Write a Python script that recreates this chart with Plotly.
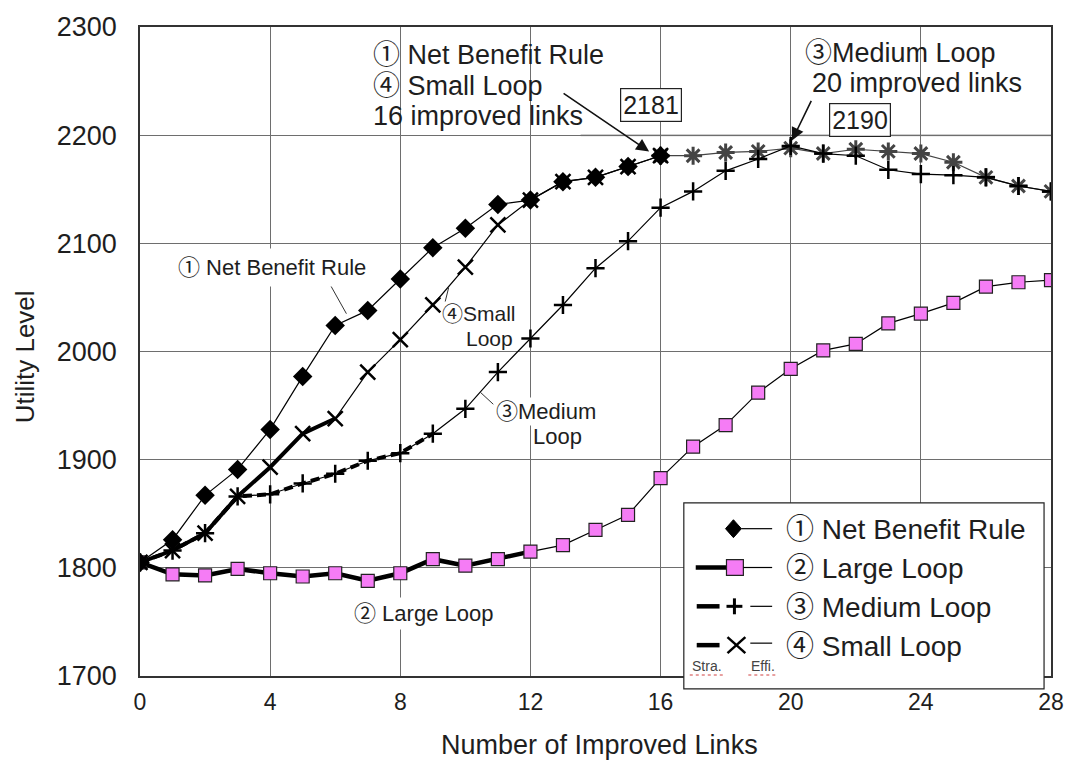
import plotly.graph_objects as go

# ---------------- data ----------------
links = list(range(0, 29))
net_benefit = [1805, 1826, 1867, 1891, 1928, 1977, 2024, 2038, 2067, 2096, 2114,
               2136, 2140, 2157, 2161, 2171, 2181]
large_loop = [1805, 1794, 1793, 1799, 1795, 1792, 1795, 1788, 1795, 1808, 1802,
              1808, 1815, 1821, 1835, 1849, 1883, 1912, 1932, 1962, 1984, 2001,
              2007, 2026, 2035, 2045, 2060, 2064, 2066]
medium_loop = [1805, 1816, 1832, 1866, 1868, 1878, 1887, 1899, 1906, 1924, 1947,
               1981, 2012, 2043, 2077, 2102, 2133, 2148, 2167, 2178, 2190, 2183,
               2181, 2168, 2164, 2163, 2161, 2153, 2148]
small_loop = [1805, 1816, 1832, 1866, 1893, 1924, 1938, 1981, 2011, 2043, 2078,
              2117, 2140, 2157, 2161, 2171, 2181, 2181, 2184, 2185, 2188, 2183,
              2187, 2185, 2183, 2175, 2161, 2153, 2148]
x_ticks = [0, 4, 8, 12, 16, 20, 24, 28]
y_ticks = [1700, 1800, 1900, 2000, 2100, 2200, 2300]

# index where "strategy" (thick) part of each line ends
LARGE_THICK = 12
MEDIUM_THICK = 9
SMALL_THICK = 6
SMALL_END = 16

FONT = "Liberation Sans, Arial, 'Noto Sans CJK JP', sans-serif"
PINK = "#f57cf5"
GRID = "#6e6e6e"
TXT = "#1e1e1e"
NONE = "rgba(0,0,0,0)"

# plot area in pixels
PL, PR, PT, PB = 140, 1058, 24, 676


def px(x):
    return (x - PL) / (PR - PL)


def py(y):
    return (PB - y) / (PB - PT)


fig = go.Figure()

# thick "strategy" segments
fig.add_trace(go.Scatter(x=links[:LARGE_THICK + 1], y=large_loop[:LARGE_THICK + 1],
                         mode="lines", line=dict(color="black", width=4.5),
                         showlegend=False, hoverinfo="skip"))
fig.add_trace(go.Scatter(x=links[:MEDIUM_THICK + 1], y=medium_loop[:MEDIUM_THICK + 1],
                         mode="lines", line=dict(color="black", width=4, dash="9px,5px"),
                         showlegend=False, hoverinfo="skip"))
fig.add_trace(go.Scatter(x=links[:SMALL_THICK + 1], y=small_loop[:SMALL_THICK + 1],
                         mode="lines", line=dict(color="black", width=4),
                         showlegend=False, hoverinfo="skip"))

# thin full lines with markers
fig.add_trace(go.Scatter(x=links, y=large_loop, mode="lines+markers",
                         line=dict(color="black", width=1.2),
                         marker=dict(symbol="square", size=13, color=PINK,
                                     line=dict(color="#222", width=1.2)),
                         name="② Large Loop", showlegend=False))
fig.add_trace(go.Scatter(x=links[SMALL_END:], y=small_loop[SMALL_END:], mode="lines+markers",
                         line=dict(color="#444", width=1.2),
                         marker=dict(symbol="asterisk-open", size=15,
                                     line=dict(color="#606060", width=3)),
                         showlegend=False))
fig.add_trace(go.Scatter(x=links, y=medium_loop, mode="lines+markers",
                         line=dict(color="black", width=1.2),
                         marker=dict(symbol="cross-thin-open", size=13,
                                     line=dict(color="black", width=2.5)),
                         name="③ Medium Loop", showlegend=False))
fig.add_trace(go.Scatter(x=links[:SMALL_END + 1], y=small_loop[:SMALL_END + 1],
                         mode="lines+markers",
                         line=dict(color="black", width=1.2),
                         marker=dict(symbol="x-thin-open", size=15,
                                     line=dict(color="black", width=2.5)),
                         name="④ Small Loop", showlegend=False))
fig.add_trace(go.Scatter(x=links[:len(net_benefit)], y=net_benefit, mode="lines+markers",
                         line=dict(color="black", width=1.2),
                         marker=dict(symbol="diamond", size=15, color="black"),
                         name="① Net Benefit Rule", showlegend=False))

shapes = []
annotations = []

# white patches that interrupt gridlines under labels
for (x0, y0, x1, y1) in [(350, 26, 584, 142), (805, 26, 1045, 106)]:
    shapes.append(dict(type="rect", xref="paper", yref="paper", layer="between",
                       x0=px(x0), x1=px(x1), y0=py(y1), y1=py(y0),
                       fillcolor="white", line=dict(width=0)))
# lighter right part of the 2200 gridline
shapes.append(dict(type="line", xref="paper", yref="y", layer="between",
                   x0=px(584), x1=1, y0=2200, y1=2200,
                   line=dict(color="#bcbcbc", width=2)))


def label(text, x, y, size=23, xanchor="center", yanchor="middle", align="center",
          bg="white", pad=2, color=TXT, border=None, angle=0):
    a = dict(text=text, x=px(x), y=py(y), xref="paper", yref="paper",
             showarrow=False, xanchor=xanchor, yanchor=yanchor, textangle=angle,
             align=align, bgcolor=bg, borderpad=pad,
             font=dict(family=FONT, size=size, color=color))
    if border:
        a.update(bordercolor=border, borderwidth=1.2)
    annotations.append(a)


def seg(x0, y0, x1, y1, width=1, color="#333", dash="solid"):
    shapes.append(dict(type="line", xref="paper", yref="paper", layer="above",
                       x0=px(x0), y0=py(y0), x1=px(x1), y1=py(y1),
                       line=dict(color=color, width=width, dash=dash)))


def arrow(tip_x, tip_y, tail_x, tail_y):
    annotations.append(dict(text="", x=px(tip_x), y=py(tip_y), xref="paper", yref="paper",
                            ax=tail_x - tip_x, ay=tail_y - tip_y,
                            showarrow=True, arrowhead=2, arrowsize=1.6, arrowwidth=1.6,
                            arrowcolor="#111"))


# labels inside the plot
label("① Net Benefit Rule", 273, 266, size=22, pad=6)
seg(330, 280, 348, 312)
label("④Small", 482, 312, size=21, pad=0)
label("Loop", 492, 337, size=21, pad=0)
seg(451, 286, 447, 302)
label("③Medium", 549, 410, size=22, pad=1)
label("Loop", 561, 435, size=22, pad=1)
seg(483, 391, 496, 403)
label("② Large Loop", 426, 613, size=22, pad=3)

# top annotations (one line each)
for t, yy in [("① Net Benefit Rule", 52), ("④ Small Loop", 83), ("16 improved links", 113)]:
    label(t, 374, yy, size=27, xanchor="left", bg=NONE, pad=0)
for t, xx, yy in [("③Medium Loop", 809, 50), ("20 improved links", 816, 80)]:
    label(t, xx, yy, size=27, xanchor="left", bg=NONE, pad=0)

label("2181", 655, 102, size=25, pad=2, border="#222")
label("2190", 866, 117, size=25, pad=2, border="#222")

arrow(653, 149, 566, 90)
arrow(797, 138, 817, 97)

# axis titles
label("Number of Improved Links", 603, 745, size=27, bg=NONE, pad=0)
label("Utility Level", 25, 355, size=26, bg=NONE, pad=0, angle=-90)

# ---------------- custom legend ----------------
shapes.append(dict(type="rect", xref="paper", yref="paper", layer="above",
                   x0=px(688), x1=px(1051), y0=py(689), y1=py(502),
                   fillcolor="white", line=dict(color="#222", width=1.2)))
rows = [528, 567, 606, 645]
legend_texts = ["① Net Benefit Rule", "② Large Loop", "③ Medium Loop", "④ Small Loop"]
for yy, t in zip(rows, legend_texts):
    label(t, 790, yy + 1, size=28, xanchor="left", bg=NONE, pad=0)

# row 1: diamond + thin line
r = rows[0]
shapes.append(dict(type="path", xref="paper", yref="paper", layer="above",
                   path=f"M {px(738)} {py(r-9)} L {px(746)} {py(r)} L {px(738)} {py(r+9)} "
                        f"L {px(730)} {py(r)} Z",
                   fillcolor="black", line=dict(color="black", width=1)))
seg(746, r, 777, r, width=1.2, color="black")
# row 2: thick line, pink square, thin line
r = rows[1]
seg(700, r, 732, r, width=4.5, color="black")
shapes.append(dict(type="rect", xref="paper", yref="paper", layer="above",
                   x0=px(731), x1=px(748), y0=py(r+8), y1=py(r-8),
                   fillcolor=PINK, line=dict(color="#222", width=1.2)))
seg(748, r, 777, r, width=1.2, color="black")
# row 3: thick dash, +, thin line
r = rows[2]
seg(701, r, 724, r, width=4.5, color="black")
seg(731, r, 747, r, width=3, color="black")
seg(739, r - 8, 739, r + 8, width=3, color="black")
seg(755, r, 777, r, width=1.2, color="black")
# row 4: thick line, X, thin line
r = rows[3]
seg(701, r, 724, r, width=4.5, color="black")
seg(732, r - 8, 750, r + 8, width=2.5, color="black")
seg(732, r + 8, 750, r - 8, width=2.5, color="black")
seg(755, r - 2, 777, r - 2, width=1.2, color="black")
label("Stra.", 711, 666, size=14, bg=NONE, pad=0, color="#444")
label("Effi.", 768, 666, size=14, bg=NONE, pad=0, color="#444")
seg(694, 675, 729, 675, width=1, color="#d04040", dash="dot")
seg(753, 675, 783, 675, width=1, color="#d04040", dash="dot")

fig.update_layout(
    width=1076, height=765,
    margin=dict(l=PL, r=1076 - PR, t=PT, b=765 - PB),
    paper_bgcolor="white", plot_bgcolor="white",
    shapes=shapes, annotations=annotations,
    showlegend=False,
    font=dict(family=FONT, size=20, color=TXT),
)
fig.update_xaxes(range=[0, 28], tickvals=x_ticks, ticktext=[str(v) for v in x_ticks],
                 showgrid=True, gridcolor=GRID, gridwidth=1,
                 showline=True, linecolor="#333", linewidth=1.5, mirror=True,
                 zeroline=False, ticks="", tickfont=dict(size=23, family=FONT, color=TXT),
                 ticklabelstandoff=5)
fig.update_yaxes(range=[1700, 2300], tickvals=y_ticks, ticktext=[str(v) for v in y_ticks],
                 showgrid=True, gridcolor=GRID, gridwidth=1,
                 showline=True, linecolor="#333", linewidth=1.5, mirror=True,
                 zeroline=False, ticks="", tickfont=dict(size=27, family=FONT, color=TXT),
                 ticklabelstandoff=16)

fig.write_html("out.html")
